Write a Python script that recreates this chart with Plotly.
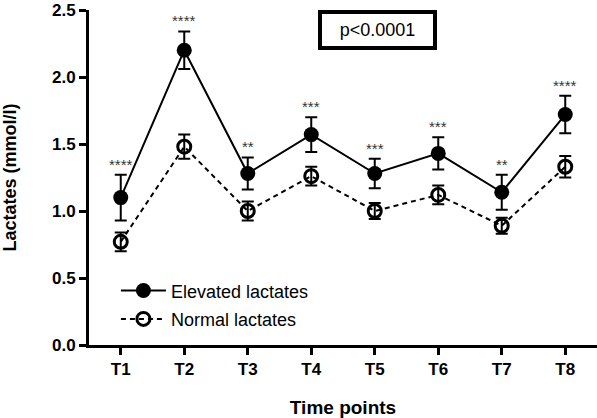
import plotly.graph_objects as go

time_points = ["T1", "T2", "T3", "T4", "T5", "T6", "T7", "T8"]
elevated_mean = [1.10, 2.20, 1.28, 1.57, 1.28, 1.43, 1.14, 1.72]
elevated_err = [0.17, 0.14, 0.12, 0.13, 0.11, 0.12, 0.13, 0.14]
normal_mean = [0.77, 1.48, 1.00, 1.26, 1.00, 1.12, 0.89, 1.33]
normal_err = [0.07, 0.09, 0.07, 0.07, 0.06, 0.07, 0.06, 0.08]
stars = ["****", "****", "**", "***", "***", "***", "**", "****"]
y_ticks = [0.0, 0.5, 1.0, 1.5, 2.0, 2.5]

FONT = "Arial, Liberation Sans, sans-serif"

fig = go.Figure()
fig.add_trace(go.Scatter(
    x=time_points, y=elevated_mean, name="Elevated lactates", legendgroup="a",
    mode="lines+markers",
    line=dict(color="black", width=2),
    marker=dict(symbol="circle", size=15, color="black"),
    error_y=dict(type="data", array=elevated_err, color="black", thickness=2, width=6),
))
fig.add_trace(go.Scatter(
    x=time_points, y=normal_mean, name="Normal lactates", legendgroup="b",
    mode="lines+markers",
    line=dict(color="black", width=2, dash="5px,4px"),
    marker=dict(symbol="circle-open", size=13, color="black", line=dict(width=3, color="black")),
    error_y=dict(type="data", array=normal_err, color="black", thickness=2, width=6),
))

annotations = []
for t, m, e, s in zip(time_points, elevated_mean, elevated_err, stars):
    annotations.append(dict(x=t, y=m + e, text=s, showarrow=False, xref="x", yref="y",
                            yanchor="bottom", yshift=0,
                            font=dict(family=FONT, size=15, color="#333333")))
annotations.append(dict(x=0.568, y=0.94, xref="paper", yref="paper", text="p<0.0001",
                        xanchor="center", yanchor="middle",
                        showarrow=False, width=111, height=32,
                        bordercolor="black", borderwidth=4, borderpad=0,
                        font=dict(family=FONT, size=18, color="black")))

fig.update_layout(
    width=597, height=418,
    margin=dict(l=89, r=0, t=10, b=72.5, autoexpand=False),
    paper_bgcolor="white", plot_bgcolor="white",
    font=dict(family=FONT, color="black"),
    showlegend=True,
    legend=dict(x=0.053, y=0.217, xanchor="left", yanchor="top", itemwidth=45,
                font=dict(family=FONT, size=18, color="black"),
                bgcolor="rgba(0,0,0,0)", traceorder="grouped", tracegroupgap=2),
    annotations=annotations,
    xaxis=dict(range=[-0.5, 7.5], showline=True, linewidth=3, linecolor="black",
               ticks="outside", ticklen=7, tickwidth=3, tickcolor="black",
               tickfont=dict(family=FONT, size=17, color="black", weight="bold"),
               showgrid=False, zeroline=False,
               title=dict(text="<b>Time points</b>", font=dict(family=FONT, size=19), standoff=23)),
    yaxis=dict(range=[0, 2.5], tickvals=y_ticks, tickformat=".1f",
               showline=True, linewidth=3, linecolor="black",
               ticks="outside", ticklen=7, tickwidth=3, tickcolor="black",
               tickfont=dict(family=FONT, size=17, color="black", weight="bold"),
               showgrid=False, zeroline=False,
               title=dict(text="<b>Lactates (mmol/l)</b>", font=dict(family=FONT, size=18), standoff=40)),
)

fig.write_html("out.html", config={"displayModeBar": False},
               post_script="document.body.style.margin='0';")
